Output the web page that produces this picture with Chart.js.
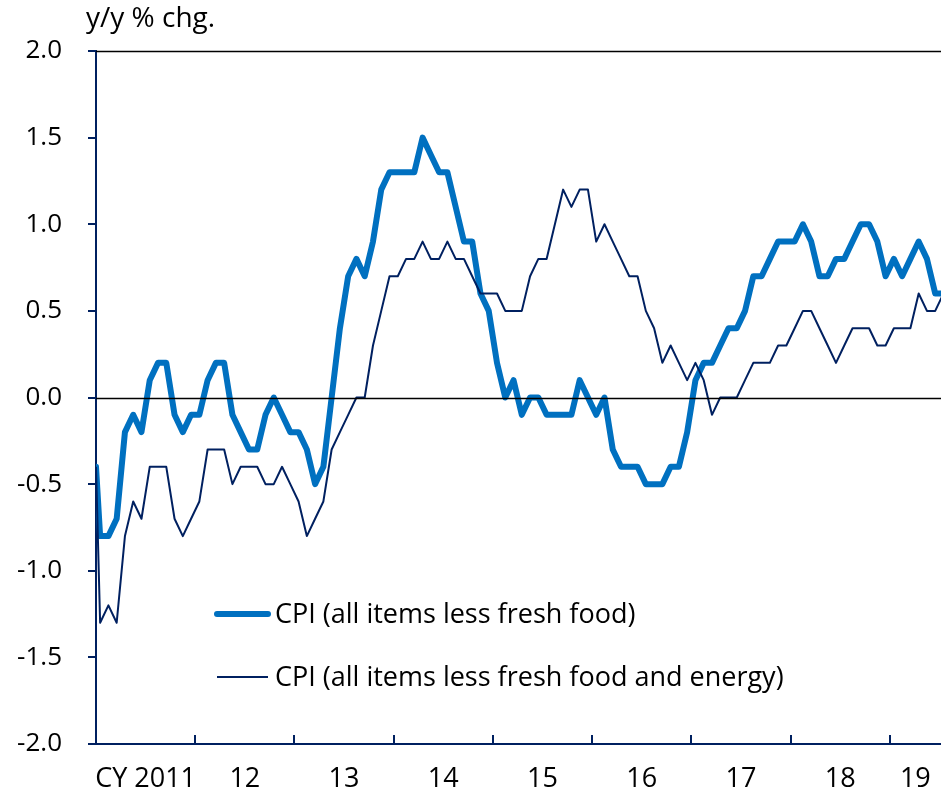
<!DOCTYPE html>
<html>
<head>
<meta charset="utf-8">
<script src="https://cdn.jsdelivr.net/npm/chart.js@4/dist/chart.umd.min.js"></script>
<style>
  html, body { margin: 0; padding: 0; background: #ffffff; }
  #wrap { width: 941px; height: 796px; position: relative; }
</style>
</head>
<body>
<div id="wrap"><canvas id="c" width="941" height="796"></canvas></div>
<script>
// ---- data (monthly, Jan 2011 = index 0) ----
const yearLabels = ['CY 2011', '12', '13', '14', '15', '16', '17', '18', '19'];
const seriesNames = ['CPI (all items less fresh food)', 'CPI (all items less fresh food and energy)'];
const axisTitle = 'y/y % chg.';

const cpiLessFreshFood = [
  -0.8, -0.8, -0.7, -0.2, -0.1, -0.2,  0.1,  0.2,  0.2, -0.1, -0.2, -0.1, // 2011
  -0.1,  0.1,  0.2,  0.2, -0.1, -0.2, -0.3, -0.3, -0.1,  0.0, -0.1, -0.2, // 2012
  -0.2, -0.3, -0.5, -0.4,  0.0,  0.4,  0.7,  0.8,  0.7,  0.9,  1.2,  1.3, // 2013
   1.3,  1.3,  1.3,  1.5,  1.4,  1.3,  1.3,  1.1,  0.9,  0.9,  0.6,  0.5, // 2014
   0.2,  0.0,  0.1, -0.1,  0.0,  0.0, -0.1, -0.1, -0.1, -0.1,  0.1,  0.0, // 2015
  -0.1,  0.0, -0.3, -0.4, -0.4, -0.4, -0.5, -0.5, -0.5, -0.4, -0.4, -0.2, // 2016
   0.1,  0.2,  0.2,  0.3,  0.4,  0.4,  0.5,  0.7,  0.7,  0.8,  0.9,  0.9, // 2017
   0.9,  1.0,  0.9,  0.7,  0.7,  0.8,  0.8,  0.9,  1.0,  1.0,  0.9,  0.7, // 2018
   0.8,  0.7,  0.8,  0.9,  0.8,  0.6,  0.6                                // 2019
];
const cpiLessFreshFoodEnergy = [
  -1.3, -1.2, -1.3, -0.8, -0.6, -0.7, -0.4, -0.4, -0.4, -0.7, -0.8, -0.7, // 2011
  -0.6, -0.3, -0.3, -0.3, -0.5, -0.4, -0.4, -0.4, -0.5, -0.5, -0.4, -0.5, // 2012
  -0.6, -0.8, -0.7, -0.6, -0.3, -0.2, -0.1,  0.0,  0.0,  0.3,  0.5,  0.7, // 2013
   0.7,  0.8,  0.8,  0.9,  0.8,  0.8,  0.9,  0.8,  0.8,  0.7,  0.6,  0.6, // 2014
   0.6,  0.5,  0.5,  0.5,  0.7,  0.8,  0.8,  1.0,  1.2,  1.1,  1.2,  1.2, // 2015
   0.9,  1.0,  0.9,  0.8,  0.7,  0.7,  0.5,  0.4,  0.2,  0.3,  0.2,  0.1, // 2016
   0.2,  0.1, -0.1,  0.0,  0.0,  0.0,  0.1,  0.2,  0.2,  0.2,  0.3,  0.3, // 2017
   0.4,  0.5,  0.5,  0.4,  0.3,  0.2,  0.3,  0.4,  0.4,  0.4,  0.3,  0.3, // 2018
   0.4,  0.4,  0.4,  0.6,  0.5,  0.5,  0.6                                // 2019
];
// Dec 2010 reading, plotted at the start of the axis (left edge)
const dec2010 = [-0.4, -0.4];

// ---- scale ranges ----
const X_MIN = -0.5, X_MAX = 101.7;
const Y_MIN = -2, Y_MAX = 2, Y_STEP = 0.5;

// ---- styles ----
const BLUE = '#0070C0';
const NAVY = '#002060';
const FONT = "'Open Sans', 'Noto Sans', sans-serif";

function toPoints(values, first) {
  const pts = [{ x: X_MIN, y: first }];
  values.forEach((v, i) => pts.push({ x: i, y: v }));
  return pts;
}

const yearCenters = yearLabels.map((_, k) => {
  const s = 12 * k - 0.5;
  const e = Math.min(12 * k + 11.5, X_MAX);
  return (s + e) / 2;
});
const yearBounds = yearLabels.slice(1).map((_, k) => 12 * (k + 1) - 0.5);

const decor = {
  id: 'decor',
  afterDatasetsDraw(chart) {
    const { ctx, chartArea: a, scales: { x, y } } = chart;
    ctx.save();
    // zero line and top border
    ctx.strokeStyle = '#000000';
    ctx.lineWidth = 1.6;
    ctx.beginPath();
    const y0 = Math.round(y.getPixelForValue(0)) + 0.5;
    ctx.moveTo(a.left, y0); ctx.lineTo(a.right, y0);
    const yt = Math.round(y.getPixelForValue(Y_MAX)) + 0.5;
    ctx.moveTo(a.left, yt); ctx.lineTo(a.right, yt);
    ctx.stroke();
    // year tick marks (inside, upward)
    ctx.strokeStyle = NAVY;
    ctx.lineWidth = 2;
    ctx.beginPath();
    yearBounds.forEach(v => {
      const px = Math.round(x.getPixelForValue(v));
      ctx.moveTo(px, a.bottom - 9); ctx.lineTo(px, a.bottom);
    });
    ctx.stroke();
    // axis title
    ctx.fillStyle = '#000000';
    ctx.textBaseline = 'alphabetic';
    ctx.textAlign = 'left';
    ctx.font = '28px ' + FONT;
    ctx.fillText(axisTitle, 86, 27);
    // legend
    ctx.font = '27px ' + FONT;
    const legend = [
      { ds: chart.data.datasets[0], y: 614 },
      { ds: chart.data.datasets[1], y: 677 }
    ];
    legend.forEach(it => {
      ctx.strokeStyle = it.ds.borderColor;
      ctx.lineWidth = it.ds.borderWidth;
      ctx.lineCap = it.ds.borderWidth > 3 ? 'round' : 'butt';
      ctx.beginPath();
      ctx.moveTo(217, it.y); ctx.lineTo(268, it.y);
      ctx.stroke();
      ctx.fillStyle = '#000000';
      ctx.fillText(it.ds.label, 275, it.y + 9);
    });
    ctx.restore();
  }
};

new Chart(document.getElementById('c'), {
  type: 'line',
  data: {
    datasets: [
      {
        label: seriesNames[0],
        data: toPoints(cpiLessFreshFood, dec2010[0]),
        borderColor: BLUE, backgroundColor: BLUE,
        borderWidth: 6, pointRadius: 0, tension: 0,
        borderJoinStyle: 'round', borderCapStyle: 'round',
        clip: 0, order: 1
      },
      {
        label: seriesNames[1],
        data: toPoints(cpiLessFreshFoodEnergy, dec2010[1]),
        borderColor: NAVY, backgroundColor: NAVY,
        borderWidth: 2, pointRadius: 0, tension: 0,
        borderJoinStyle: 'round',
        clip: 0, order: 0
      }
    ]
  },
  options: {
    responsive: false,
    animation: false,
    events: [],
    layout: { padding: { top: 51, left: 0, right: 0, bottom: 0 } },
    plugins: { legend: { display: false }, tooltip: { enabled: false }, title: { display: false } },
    scales: {
      x: {
        type: 'linear',
        min: X_MIN, max: X_MAX,
        bounds: 'data',
        grid: { display: false, drawTicks: false },
        border: { display: true, color: NAVY, width: 2 },
        ticks: {
          autoSkip: false, maxRotation: 0, minRotation: 0,
          padding: 19, color: '#000000',
          font: { family: FONT, size: 27 },
          callback: (v, i) => yearLabels[i]
        },
        afterBuildTicks: (s) => { s.ticks = yearCenters.map(v => ({ value: v })); },
        afterFit: (s) => { s.height = 52; s.paddingLeft = 0; s.paddingRight = 0; }
      },
      y: {
        min: Y_MIN, max: Y_MAX,
        grid: { drawOnChartArea: false, drawTicks: true, tickLength: 8, color: NAVY, lineWidth: 2 },
        border: { display: true, color: NAVY, width: 2 },
        ticks: {
          stepSize: Y_STEP, padding: 26, color: '#000000',
          font: { family: FONT, size: 26 },
          callback: (v) => Number(v).toFixed(1)
        },
        afterFit: (s) => { s.width = 96; }
      }
    }
  },
  plugins: [decor]
});
</script>
</body>
</html>
